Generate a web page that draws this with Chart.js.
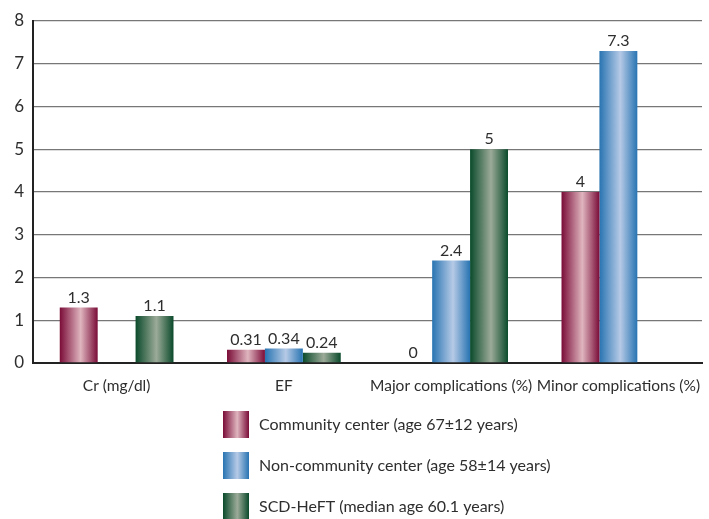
<!DOCTYPE html>
<html>
<head>
<meta charset="utf-8">
<script src="https://cdn.jsdelivr.net/npm/chart.js@4.4.1/dist/chart.umd.min.js"></script>
<style>
  html, body { margin: 0; padding: 0; background: #fff; }
  #wrap { width: 709px; height: 519px; }
</style>
</head>
<body>
<div id="wrap"><canvas id="chart1" width="709" height="519"></canvas></div>
<script>
// DATA
const categories = ["Cr (mg/dl)", "EF", "Major complications (%)", "Minor complications (%)"];
const seriesNames = [
  "Community center (age 67\u00b112 years)",
  "Non-community center (age 58\u00b114 years)",
  "SCD-HeFT (median age 60.1 years)"
];
const communityValues = [1.3, 0.31, 0, 4];
const nonCommunityValues = [null, 0.34, 2.4, 7.3];
const scdHeftValues = [1.1, 0.24, 5, null];
const yTicks = [0, 1, 2, 3, 4, 5, 6, 7, 8];

// shading: edge colour, centre colour
const shades = [
  ["#7a0c37", "#dfb5bf"],
  ["#2874b2", "#b6cae6"],
  ["#0a4a2b", "#9cab99"]
];

const FONT = "Lato, 'Open Sans', sans-serif";
const TEXT = "#2e2e2e";

function barGradient(ctx, x0, x1, pair) {
  let g = ctx.createLinearGradient(x0, 0, x1, 0);
  g.addColorStop(0, pair[0]);
  g.addColorStop(0.55, pair[1]);
  g.addColorStop(1, pair[0]);
  return g;
}

// gradient on each bar (own options object per bar, shared ones get overwritten)
const shadePlugin = {
  id: 'shade',
  beforeDatasetsDraw(chart) {
    chart.data.datasets.forEach((ds, i) => {
      chart.getDatasetMeta(i).data.forEach(el => {
        let g = barGradient(chart.ctx, el.x - el.width / 2, el.x + el.width / 2, shades[i]);
        el.options = Object.assign({}, el.options, { backgroundColor: g });
      });
    });
  }
};

// value labels above the bars
const valuePlugin = {
  id: 'values',
  afterDatasetsDraw(chart) {
    let ctx = chart.ctx;
    ctx.save();
    ctx.font = "16px " + FONT;
    ctx.fillStyle = TEXT;
    ctx.textAlign = "center";
    ctx.textBaseline = "bottom";
    chart.data.datasets.forEach((ds, i) => {
      chart.getDatasetMeta(i).data.forEach((el, j) => {
        let v = ds.data[j];
        if (v === null || v === undefined) return;
        ctx.fillText(String(v), el.x, el.y - 2);
      });
    });
    ctx.restore();
  }
};

// legend stacked below the plot
const legendPlugin = {
  id: 'stackLegend',
  afterDraw(chart) {
    let ctx = chart.ctx;
    ctx.save();
    ctx.font = "16px " + FONT;
    ctx.textBaseline = "middle";
    seriesNames.forEach((name, i) => {
      let top = 411 + i * 41;
      ctx.fillStyle = barGradient(ctx, 223, 249, shades[i]);
      ctx.fillRect(223, top, 26, 27);
      ctx.fillStyle = TEXT;
      ctx.fillText(name, 259, top + 14);
    });
    ctx.restore();
  }
};

let ctx1 = document.getElementById('chart1').getContext('2d');
let myChart = new Chart(ctx1, {
  type: 'bar',
  data: {
    labels: categories,
    datasets: [
      { label: seriesNames[0], data: communityValues, backgroundColor: shades[0][0] },
      { label: seriesNames[1], data: nonCommunityValues, backgroundColor: shades[1][0] },
      { label: seriesNames[2], data: scdHeftValues, backgroundColor: shades[2][0] }
    ]
  },
  options: {
    responsive: false,
    animation: false,
    layout: { padding: { top: 21, right: 7, bottom: 116, left: 0 } },
    datasets: { bar: { categoryPercentage: 0.68, barPercentage: 1.0 } },
    plugins: {
      legend: { display: false },
      tooltip: { enabled: false }
    },
    scales: {
      x: {
        grid: { display: false },
        border: { display: true, color: '#222', width: 2 },
        ticks: { color: TEXT, font: { family: FONT, size: 15.5 }, padding: 6, maxRotation: 0, autoSkip: false },
        afterFit: s => { s.height = 40; }
      },
      y: {
        min: 0,
        max: 8,
        afterBuildTicks: s => { s.ticks = yTicks.map(v => ({ value: v })); },
        grid: { color: '#777', lineWidth: 1.3, drawTicks: false },
        border: { display: true, color: '#222', width: 2 },
        ticks: { color: TEXT, font: { family: FONT, size: 17 }, padding: 9 },
        afterFit: s => { s.width = 33; }
      }
    }
  },
  plugins: [shadePlugin, valuePlugin, legendPlugin]
});
</script>
</body>
</html>
